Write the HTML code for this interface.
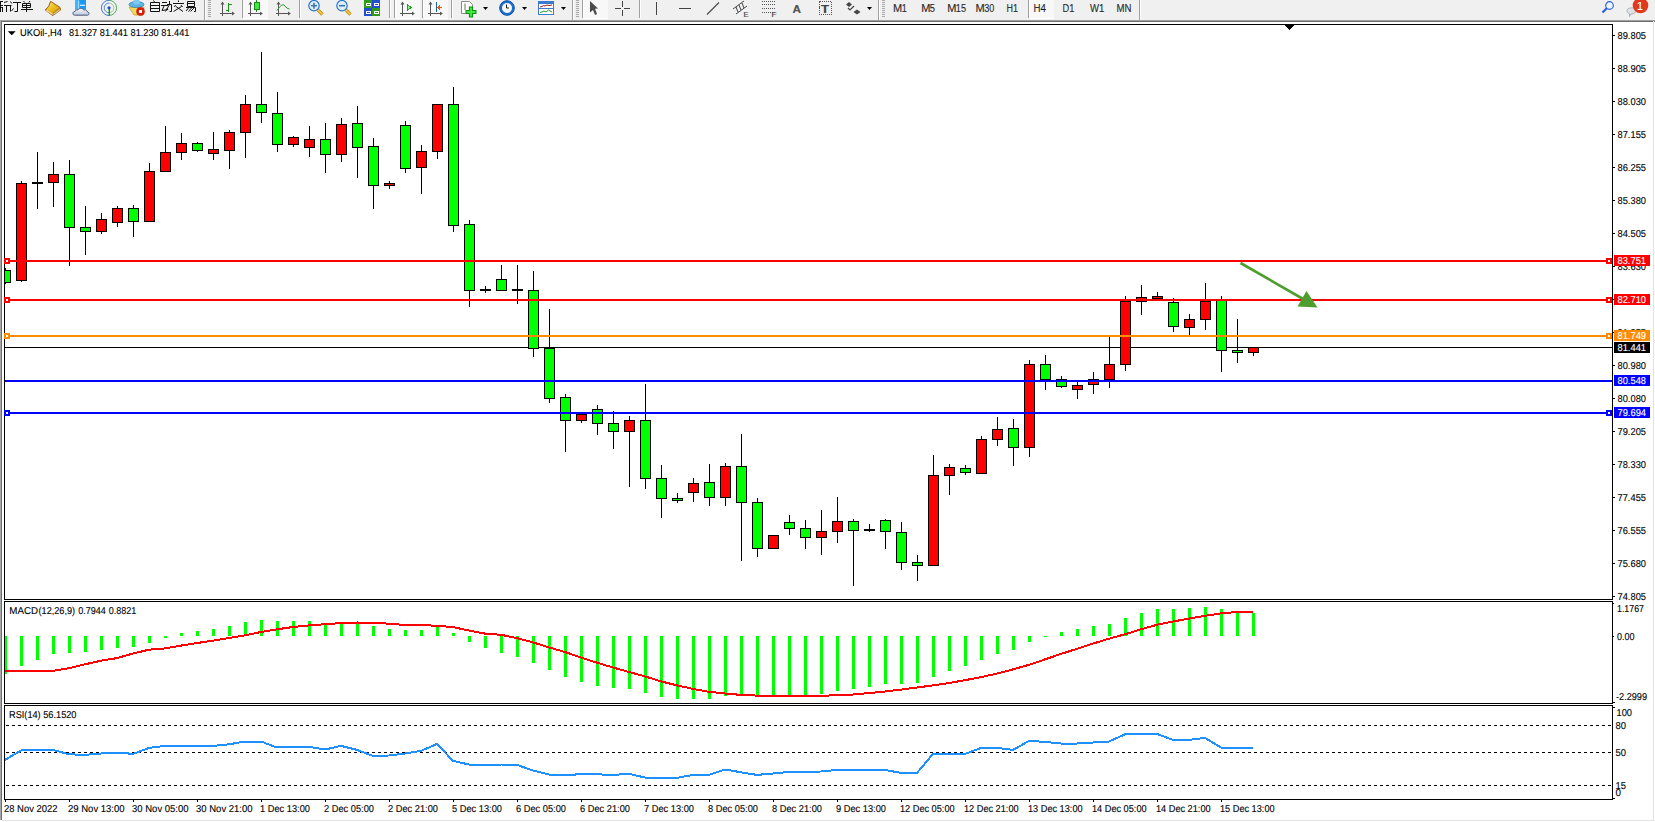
<!DOCTYPE html>
<html><head><meta charset="utf-8"><style>
html,body{margin:0;padding:0;background:#f0f0f0;}
body{width:1655px;height:822px;overflow:hidden;position:relative;}
svg{position:absolute;left:0;top:0;display:block;}
text{font-family:'Liberation Sans',sans-serif;stroke:currentColor;stroke-width:0.12px;}
</style></head><body>
<svg width="1655" height="822" viewBox="0 0 1655 822" shape-rendering="crispEdges">
<defs>
<clipPath id="mainclip"><rect x="5" y="25" width="1607" height="574"/></clipPath>
<clipPath id="macdclip"><rect x="5" y="602" width="1607" height="101"/></clipPath>
<clipPath id="rsiclip"><rect x="5" y="706" width="1607" height="93"/></clipPath>
</defs>
<g text-rendering="geometricPrecision">
<rect x="0" y="0" width="1655" height="822" fill="#f0f0f0"/>
<rect x="0" y="20" width="1655" height="802" fill="#ffffff"/>
<rect x="0" y="20" width="1655" height="1" fill="#a0a0a0"/>
<rect x="0" y="20" width="1" height="800" fill="#a8a8a8"/>
<rect x="1" y="21" width="1654" height="1" fill="#6e6e6e"/>
<rect x="1" y="21" width="1" height="799" fill="#6e6e6e"/>
<rect x="1653" y="21" width="1" height="800" fill="#e3e3e3"/>
<rect x="2" y="820" width="1652" height="1" fill="#e3e3e3"/>
<rect x="4" y="24" width="1609" height="1" fill="#000"/>
<rect x="4" y="599" width="1609" height="1" fill="#000"/>
<rect x="4" y="24" width="1" height="576" fill="#000"/>
<rect x="1612" y="24" width="1" height="576" fill="#000"/>
<rect x="4" y="601" width="1609" height="1" fill="#000"/>
<rect x="4" y="703" width="1609" height="1" fill="#000"/>
<rect x="4" y="601" width="1" height="103" fill="#000"/>
<rect x="1612" y="601" width="1" height="103" fill="#000"/>
<rect x="4" y="705" width="1609" height="1" fill="#000"/>
<rect x="4" y="799" width="1609" height="1" fill="#000"/>
<rect x="4" y="705" width="1" height="95" fill="#000"/>
<rect x="1612" y="705" width="1" height="95" fill="#000"/>
<rect x="5" y="347" width="1607" height="1" fill="#000"/>
<g clip-path="url(#mainclip)"><rect x="5" y="268" width="1" height="16" fill="#000"/><rect x="0" y="270" width="11" height="13" fill="#000"/><rect x="1" y="271" width="9" height="11" fill="#00ff00"/><rect x="21" y="181" width="1" height="101" fill="#000"/><rect x="16" y="183" width="11" height="98" fill="#000"/><rect x="17" y="184" width="9" height="96" fill="#ff0000"/><rect x="37" y="152" width="1" height="57" fill="#000"/><rect x="32" y="182" width="11" height="2" fill="#000"/><rect x="53" y="162" width="1" height="45" fill="#000"/><rect x="48" y="174" width="11" height="9" fill="#000"/><rect x="49" y="175" width="9" height="7" fill="#ff0000"/><rect x="69" y="160" width="1" height="106" fill="#000"/><rect x="64" y="174" width="11" height="54" fill="#000"/><rect x="65" y="175" width="9" height="52" fill="#00ff00"/><rect x="85" y="206" width="1" height="49" fill="#000"/><rect x="80" y="227" width="11" height="5" fill="#000"/><rect x="81" y="228" width="9" height="3" fill="#00ff00"/><rect x="101" y="213" width="1" height="21" fill="#000"/><rect x="96" y="219" width="11" height="13" fill="#000"/><rect x="97" y="220" width="9" height="11" fill="#ff0000"/><rect x="117" y="206" width="1" height="21" fill="#000"/><rect x="112" y="208" width="11" height="15" fill="#000"/><rect x="113" y="209" width="9" height="13" fill="#ff0000"/><rect x="133" y="205" width="1" height="32" fill="#000"/><rect x="128" y="208" width="11" height="14" fill="#000"/><rect x="129" y="209" width="9" height="12" fill="#00ff00"/><rect x="149" y="163" width="1" height="58" fill="#000"/><rect x="144" y="171" width="11" height="51" fill="#000"/><rect x="145" y="172" width="9" height="49" fill="#ff0000"/><rect x="165" y="126" width="1" height="45" fill="#000"/><rect x="160" y="152" width="11" height="20" fill="#000"/><rect x="161" y="153" width="9" height="18" fill="#ff0000"/><rect x="181" y="133" width="1" height="27" fill="#000"/><rect x="176" y="143" width="11" height="10" fill="#000"/><rect x="177" y="144" width="9" height="8" fill="#ff0000"/><rect x="197" y="142" width="1" height="10" fill="#000"/><rect x="192" y="143" width="11" height="8" fill="#000"/><rect x="193" y="144" width="9" height="6" fill="#00ff00"/><rect x="213" y="132" width="1" height="28" fill="#000"/><rect x="208" y="149" width="11" height="5" fill="#000"/><rect x="209" y="150" width="9" height="3" fill="#ff0000"/><rect x="229" y="130" width="1" height="39" fill="#000"/><rect x="224" y="132" width="11" height="19" fill="#000"/><rect x="225" y="133" width="9" height="17" fill="#ff0000"/><rect x="245" y="95" width="1" height="63" fill="#000"/><rect x="240" y="104" width="11" height="29" fill="#000"/><rect x="241" y="105" width="9" height="27" fill="#ff0000"/><rect x="261" y="52" width="1" height="71" fill="#000"/><rect x="256" y="104" width="11" height="9" fill="#000"/><rect x="257" y="105" width="9" height="7" fill="#00ff00"/><rect x="277" y="92" width="1" height="60" fill="#000"/><rect x="272" y="113" width="11" height="32" fill="#000"/><rect x="273" y="114" width="9" height="30" fill="#00ff00"/><rect x="293" y="136" width="1" height="11" fill="#000"/><rect x="288" y="137" width="11" height="8" fill="#000"/><rect x="289" y="138" width="9" height="6" fill="#ff0000"/><rect x="309" y="126" width="1" height="31" fill="#000"/><rect x="304" y="139" width="11" height="9" fill="#000"/><rect x="305" y="140" width="9" height="7" fill="#ff0000"/><rect x="325" y="123" width="1" height="50" fill="#000"/><rect x="320" y="139" width="11" height="16" fill="#000"/><rect x="321" y="140" width="9" height="14" fill="#00ff00"/><rect x="341" y="118" width="1" height="44" fill="#000"/><rect x="336" y="124" width="11" height="31" fill="#000"/><rect x="337" y="125" width="9" height="29" fill="#ff0000"/><rect x="357" y="106" width="1" height="72" fill="#000"/><rect x="352" y="123" width="11" height="25" fill="#000"/><rect x="353" y="124" width="9" height="23" fill="#00ff00"/><rect x="373" y="138" width="1" height="71" fill="#000"/><rect x="368" y="146" width="11" height="40" fill="#000"/><rect x="369" y="147" width="9" height="38" fill="#00ff00"/><rect x="389" y="181" width="1" height="8" fill="#000"/><rect x="384" y="183" width="11" height="3" fill="#000"/><rect x="385" y="184" width="9" height="1" fill="#ff0000"/><rect x="405" y="121" width="1" height="52" fill="#000"/><rect x="400" y="125" width="11" height="44" fill="#000"/><rect x="401" y="126" width="9" height="42" fill="#00ff00"/><rect x="421" y="145" width="1" height="49" fill="#000"/><rect x="416" y="151" width="11" height="17" fill="#000"/><rect x="417" y="152" width="9" height="15" fill="#ff0000"/><rect x="437" y="104" width="1" height="55" fill="#000"/><rect x="432" y="104" width="11" height="48" fill="#000"/><rect x="433" y="105" width="9" height="46" fill="#ff0000"/><rect x="453" y="87" width="1" height="145" fill="#000"/><rect x="448" y="104" width="11" height="122" fill="#000"/><rect x="449" y="105" width="9" height="120" fill="#00ff00"/><rect x="469" y="220" width="1" height="87" fill="#000"/><rect x="464" y="224" width="11" height="67" fill="#000"/><rect x="465" y="225" width="9" height="65" fill="#00ff00"/><rect x="485" y="286" width="1" height="7" fill="#000"/><rect x="480" y="289" width="11" height="2" fill="#000"/><rect x="501" y="265" width="1" height="25" fill="#000"/><rect x="496" y="279" width="11" height="12" fill="#000"/><rect x="497" y="280" width="9" height="10" fill="#00ff00"/><rect x="517" y="265" width="1" height="39" fill="#000"/><rect x="512" y="289" width="11" height="2" fill="#000"/><rect x="533" y="271" width="1" height="86" fill="#000"/><rect x="528" y="290" width="11" height="59" fill="#000"/><rect x="529" y="291" width="9" height="57" fill="#00ff00"/><rect x="549" y="309" width="1" height="94" fill="#000"/><rect x="544" y="348" width="11" height="51" fill="#000"/><rect x="545" y="349" width="9" height="49" fill="#00ff00"/><rect x="565" y="394" width="1" height="58" fill="#000"/><rect x="560" y="397" width="11" height="24" fill="#000"/><rect x="561" y="398" width="9" height="22" fill="#00ff00"/><rect x="581" y="414" width="1" height="9" fill="#000"/><rect x="576" y="414" width="11" height="7" fill="#000"/><rect x="577" y="415" width="9" height="5" fill="#ff0000"/><rect x="597" y="405" width="1" height="30" fill="#000"/><rect x="592" y="409" width="11" height="15" fill="#000"/><rect x="593" y="410" width="9" height="13" fill="#00ff00"/><rect x="613" y="411" width="1" height="38" fill="#000"/><rect x="608" y="423" width="11" height="9" fill="#000"/><rect x="609" y="424" width="9" height="7" fill="#00ff00"/><rect x="629" y="416" width="1" height="71" fill="#000"/><rect x="624" y="420" width="11" height="12" fill="#000"/><rect x="625" y="421" width="9" height="10" fill="#ff0000"/><rect x="645" y="384" width="1" height="105" fill="#000"/><rect x="640" y="420" width="11" height="59" fill="#000"/><rect x="641" y="421" width="9" height="57" fill="#00ff00"/><rect x="661" y="465" width="1" height="53" fill="#000"/><rect x="656" y="478" width="11" height="21" fill="#000"/><rect x="657" y="479" width="9" height="19" fill="#00ff00"/><rect x="677" y="493" width="1" height="10" fill="#000"/><rect x="672" y="498" width="11" height="3" fill="#000"/><rect x="673" y="499" width="9" height="1" fill="#00ff00"/><rect x="693" y="478" width="1" height="24" fill="#000"/><rect x="688" y="483" width="11" height="10" fill="#000"/><rect x="689" y="484" width="9" height="8" fill="#ff0000"/><rect x="709" y="464" width="1" height="42" fill="#000"/><rect x="704" y="482" width="11" height="16" fill="#000"/><rect x="705" y="483" width="9" height="14" fill="#00ff00"/><rect x="725" y="463" width="1" height="43" fill="#000"/><rect x="720" y="466" width="11" height="32" fill="#000"/><rect x="721" y="467" width="9" height="30" fill="#ff0000"/><rect x="741" y="434" width="1" height="127" fill="#000"/><rect x="736" y="466" width="11" height="37" fill="#000"/><rect x="737" y="467" width="9" height="35" fill="#00ff00"/><rect x="757" y="498" width="1" height="59" fill="#000"/><rect x="752" y="502" width="11" height="47" fill="#000"/><rect x="753" y="503" width="9" height="45" fill="#00ff00"/><rect x="773" y="535" width="1" height="13" fill="#000"/><rect x="768" y="535" width="11" height="14" fill="#000"/><rect x="769" y="536" width="9" height="12" fill="#ff0000"/><rect x="789" y="515" width="1" height="20" fill="#000"/><rect x="784" y="522" width="11" height="7" fill="#000"/><rect x="785" y="523" width="9" height="5" fill="#00ff00"/><rect x="805" y="520" width="1" height="29" fill="#000"/><rect x="800" y="528" width="11" height="10" fill="#000"/><rect x="801" y="529" width="9" height="8" fill="#00ff00"/><rect x="821" y="510" width="1" height="45" fill="#000"/><rect x="816" y="531" width="11" height="7" fill="#000"/><rect x="817" y="532" width="9" height="5" fill="#ff0000"/><rect x="837" y="497" width="1" height="46" fill="#000"/><rect x="832" y="521" width="11" height="11" fill="#000"/><rect x="833" y="522" width="9" height="9" fill="#ff0000"/><rect x="853" y="519" width="1" height="67" fill="#000"/><rect x="848" y="521" width="11" height="10" fill="#000"/><rect x="849" y="522" width="9" height="8" fill="#00ff00"/><rect x="869" y="524" width="1" height="8" fill="#000"/><rect x="864" y="529" width="11" height="2" fill="#000"/><rect x="885" y="519" width="1" height="30" fill="#000"/><rect x="880" y="520" width="11" height="12" fill="#000"/><rect x="881" y="521" width="9" height="10" fill="#00ff00"/><rect x="901" y="522" width="1" height="48" fill="#000"/><rect x="896" y="532" width="11" height="31" fill="#000"/><rect x="897" y="533" width="9" height="29" fill="#00ff00"/><rect x="917" y="555" width="1" height="26" fill="#000"/><rect x="912" y="562" width="11" height="4" fill="#000"/><rect x="913" y="563" width="9" height="2" fill="#00ff00"/><rect x="933" y="455" width="1" height="110" fill="#000"/><rect x="928" y="475" width="11" height="91" fill="#000"/><rect x="929" y="476" width="9" height="89" fill="#ff0000"/><rect x="949" y="464" width="1" height="31" fill="#000"/><rect x="944" y="467" width="11" height="9" fill="#000"/><rect x="945" y="468" width="9" height="7" fill="#ff0000"/><rect x="965" y="465" width="1" height="10" fill="#000"/><rect x="960" y="468" width="11" height="5" fill="#000"/><rect x="961" y="469" width="9" height="3" fill="#00ff00"/><rect x="981" y="436" width="1" height="37" fill="#000"/><rect x="976" y="439" width="11" height="35" fill="#000"/><rect x="977" y="440" width="9" height="33" fill="#ff0000"/><rect x="997" y="417" width="1" height="29" fill="#000"/><rect x="992" y="429" width="11" height="11" fill="#000"/><rect x="993" y="430" width="9" height="9" fill="#ff0000"/><rect x="1013" y="419" width="1" height="47" fill="#000"/><rect x="1008" y="428" width="11" height="20" fill="#000"/><rect x="1009" y="429" width="9" height="18" fill="#00ff00"/><rect x="1029" y="360" width="1" height="97" fill="#000"/><rect x="1024" y="364" width="11" height="84" fill="#000"/><rect x="1025" y="365" width="9" height="82" fill="#ff0000"/><rect x="1045" y="355" width="1" height="35" fill="#000"/><rect x="1040" y="364" width="11" height="16" fill="#000"/><rect x="1041" y="365" width="9" height="14" fill="#00ff00"/><rect x="1061" y="376" width="1" height="12" fill="#000"/><rect x="1056" y="379" width="11" height="8" fill="#000"/><rect x="1057" y="380" width="9" height="6" fill="#00ff00"/><rect x="1077" y="382" width="1" height="17" fill="#000"/><rect x="1072" y="385" width="11" height="5" fill="#000"/><rect x="1073" y="386" width="9" height="3" fill="#ff0000"/><rect x="1093" y="372" width="1" height="22" fill="#000"/><rect x="1088" y="379" width="11" height="6" fill="#000"/><rect x="1089" y="380" width="9" height="4" fill="#ff0000"/><rect x="1109" y="337" width="1" height="51" fill="#000"/><rect x="1104" y="364" width="11" height="16" fill="#000"/><rect x="1105" y="365" width="9" height="14" fill="#ff0000"/><rect x="1125" y="296" width="1" height="75" fill="#000"/><rect x="1120" y="301" width="11" height="64" fill="#000"/><rect x="1121" y="302" width="9" height="62" fill="#ff0000"/><rect x="1141" y="285" width="1" height="30" fill="#000"/><rect x="1136" y="297" width="11" height="5" fill="#000"/><rect x="1137" y="298" width="9" height="3" fill="#ff0000"/><rect x="1157" y="292" width="1" height="6" fill="#000"/><rect x="1152" y="296" width="11" height="3" fill="#000"/><rect x="1153" y="297" width="9" height="1" fill="#ff0000"/><rect x="1173" y="298" width="1" height="34" fill="#000"/><rect x="1168" y="302" width="11" height="25" fill="#000"/><rect x="1169" y="303" width="9" height="23" fill="#00ff00"/><rect x="1189" y="314" width="1" height="21" fill="#000"/><rect x="1184" y="319" width="11" height="9" fill="#000"/><rect x="1185" y="320" width="9" height="7" fill="#ff0000"/><rect x="1205" y="283" width="1" height="47" fill="#000"/><rect x="1200" y="301" width="11" height="19" fill="#000"/><rect x="1201" y="302" width="9" height="17" fill="#ff0000"/><rect x="1221" y="296" width="1" height="76" fill="#000"/><rect x="1216" y="300" width="11" height="51" fill="#000"/><rect x="1217" y="301" width="9" height="49" fill="#00ff00"/><rect x="1237" y="319" width="1" height="44" fill="#000"/><rect x="1232" y="350" width="11" height="3" fill="#000"/><rect x="1233" y="351" width="9" height="1" fill="#00ff00"/><rect x="1253" y="347" width="1" height="9" fill="#000"/><rect x="1248" y="347" width="11" height="6" fill="#000"/><rect x="1249" y="348" width="9" height="4" fill="#ff0000"/></g>
<rect x="5" y="260" width="1607" height="2" fill="#ff0000"/>
<rect x="5" y="299" width="1607" height="2" fill="#ff0000"/>
<rect x="5" y="335" width="1607" height="2" fill="#ff8c00"/>
<rect x="5" y="380" width="1607" height="2" fill="#0000ff"/>
<rect x="5" y="412" width="1607" height="2" fill="#0000ff"/>
<rect x="4" y="258" width="6" height="6" fill="#ff0000"/>
<rect x="6" y="260" width="2" height="2" fill="#fff"/>
<rect x="1606" y="258" width="6" height="6" fill="#ff0000"/>
<rect x="1608" y="260" width="2" height="2" fill="#fff"/>
<rect x="4" y="297" width="6" height="6" fill="#ff0000"/>
<rect x="6" y="299" width="2" height="2" fill="#fff"/>
<rect x="1606" y="297" width="6" height="6" fill="#ff0000"/>
<rect x="1608" y="299" width="2" height="2" fill="#fff"/>
<rect x="4" y="333" width="6" height="6" fill="#ff8c00"/>
<rect x="6" y="335" width="2" height="2" fill="#fff"/>
<rect x="1606" y="333" width="6" height="6" fill="#ff8c00"/>
<rect x="1608" y="335" width="2" height="2" fill="#fff"/>
<rect x="4" y="410" width="6" height="6" fill="#0000ff"/>
<rect x="6" y="412" width="2" height="2" fill="#fff"/>
<rect x="1606" y="410" width="6" height="6" fill="#0000ff"/>
<rect x="1608" y="412" width="2" height="2" fill="#fff"/>
<g shape-rendering="geometricPrecision"><line x1="1240.5" y1="263" x2="1304" y2="299.5" stroke="#4f9d2d" stroke-width="2.6"/>
<polygon points="1306.5,291 1297.5,306.5 1317.5,307.5" fill="#4f9d2d"/></g>
<polygon points="1284.5,24.5 1294.8,24.5 1289.6,30.3" fill="#000"/>
<rect x="1613" y="35" width="2" height="1" fill="#000"/>
<text x="1617.5" y="39" font-size="10" fill="#000" style="color:#000" textLength="28.5" lengthAdjust="spacingAndGlyphs">89.805</text>
<rect x="1613" y="68" width="2" height="1" fill="#000"/>
<text x="1617.5" y="72" font-size="10" fill="#000" style="color:#000" textLength="28.5" lengthAdjust="spacingAndGlyphs">88.905</text>
<rect x="1613" y="101" width="2" height="1" fill="#000"/>
<text x="1617.5" y="105" font-size="10" fill="#000" style="color:#000" textLength="28.5" lengthAdjust="spacingAndGlyphs">88.030</text>
<rect x="1613" y="134" width="2" height="1" fill="#000"/>
<text x="1617.5" y="138" font-size="10" fill="#000" style="color:#000" textLength="28.5" lengthAdjust="spacingAndGlyphs">87.155</text>
<rect x="1613" y="167" width="2" height="1" fill="#000"/>
<text x="1617.5" y="171" font-size="10" fill="#000" style="color:#000" textLength="28.5" lengthAdjust="spacingAndGlyphs">86.255</text>
<rect x="1613" y="200" width="2" height="1" fill="#000"/>
<text x="1617.5" y="204" font-size="10" fill="#000" style="color:#000" textLength="28.5" lengthAdjust="spacingAndGlyphs">85.380</text>
<rect x="1613" y="233" width="2" height="1" fill="#000"/>
<text x="1617.5" y="237" font-size="10" fill="#000" style="color:#000" textLength="28.5" lengthAdjust="spacingAndGlyphs">84.505</text>
<rect x="1613" y="266" width="2" height="1" fill="#000"/>
<text x="1617.5" y="270" font-size="10" fill="#000" style="color:#000" textLength="28.5" lengthAdjust="spacingAndGlyphs">83.630</text>
<rect x="1613" y="299" width="2" height="1" fill="#000"/>
<text x="1617.5" y="303" font-size="10" fill="#000" style="color:#000" textLength="28.5" lengthAdjust="spacingAndGlyphs">82.730</text>
<rect x="1613" y="332" width="2" height="1" fill="#000"/>
<text x="1617.5" y="336" font-size="10" fill="#000" style="color:#000" textLength="28.5" lengthAdjust="spacingAndGlyphs">81.855</text>
<rect x="1613" y="365" width="2" height="1" fill="#000"/>
<text x="1617.5" y="369" font-size="10" fill="#000" style="color:#000" textLength="28.5" lengthAdjust="spacingAndGlyphs">80.980</text>
<rect x="1613" y="398" width="2" height="1" fill="#000"/>
<text x="1617.5" y="402" font-size="10" fill="#000" style="color:#000" textLength="28.5" lengthAdjust="spacingAndGlyphs">80.080</text>
<rect x="1613" y="431" width="2" height="1" fill="#000"/>
<text x="1617.5" y="435" font-size="10" fill="#000" style="color:#000" textLength="28.5" lengthAdjust="spacingAndGlyphs">79.205</text>
<rect x="1613" y="464" width="2" height="1" fill="#000"/>
<text x="1617.5" y="468" font-size="10" fill="#000" style="color:#000" textLength="28.5" lengthAdjust="spacingAndGlyphs">78.330</text>
<rect x="1613" y="497" width="2" height="1" fill="#000"/>
<text x="1617.5" y="501" font-size="10" fill="#000" style="color:#000" textLength="28.5" lengthAdjust="spacingAndGlyphs">77.455</text>
<rect x="1613" y="530" width="2" height="1" fill="#000"/>
<text x="1617.5" y="534" font-size="10" fill="#000" style="color:#000" textLength="28.5" lengthAdjust="spacingAndGlyphs">76.555</text>
<rect x="1613" y="563" width="2" height="1" fill="#000"/>
<text x="1617.5" y="567" font-size="10" fill="#000" style="color:#000" textLength="28.5" lengthAdjust="spacingAndGlyphs">75.680</text>
<rect x="1613" y="596" width="2" height="1" fill="#000"/>
<text x="1617.5" y="600" font-size="10" fill="#000" style="color:#000" textLength="28.5" lengthAdjust="spacingAndGlyphs">74.805</text>
<rect x="1614" y="255" width="36" height="11" fill="#ff0000"/>
<text x="1617.5" y="264" font-size="10" fill="#fff" style="color:#fff" textLength="28.5" lengthAdjust="spacingAndGlyphs">83.751</text>
<rect x="1614" y="294" width="36" height="11" fill="#ff0000"/>
<text x="1617.5" y="303" font-size="10" fill="#fff" style="color:#fff" textLength="28.5" lengthAdjust="spacingAndGlyphs">82.710</text>
<rect x="1614" y="330" width="36" height="11" fill="#ff8c00"/>
<text x="1617.5" y="339" font-size="10" fill="#fff" style="color:#fff" textLength="28.5" lengthAdjust="spacingAndGlyphs">81.749</text>
<rect x="1614" y="342" width="36" height="11" fill="#000000"/>
<text x="1617.5" y="351" font-size="10" fill="#fff" style="color:#fff" textLength="28.5" lengthAdjust="spacingAndGlyphs">81.441</text>
<rect x="1614" y="375" width="36" height="11" fill="#0000ff"/>
<text x="1617.5" y="384" font-size="10" fill="#fff" style="color:#fff" textLength="28.5" lengthAdjust="spacingAndGlyphs">80.548</text>
<rect x="1614" y="407" width="36" height="11" fill="#0000ff"/>
<text x="1617.5" y="416" font-size="10" fill="#fff" style="color:#fff" textLength="28.5" lengthAdjust="spacingAndGlyphs">79.694</text>
<polygon points="7.8,31.3 15.7,31.3 11.75,35.3" fill="#000" shape-rendering="geometricPrecision"/>
<text x="20" y="35.5" font-size="10" fill="#000" style="color:#000" textLength="42" lengthAdjust="spacingAndGlyphs">UKOil-,H4</text>
<text x="69" y="35.5" font-size="10" fill="#000" style="color:#000" textLength="120.5" lengthAdjust="spacingAndGlyphs">81.327 81.441 81.230 81.441</text>
<text x="9.3" y="614" font-size="10" fill="#000" style="color:#000" textLength="28.7" lengthAdjust="spacingAndGlyphs">MACD</text>
<text x="38.5" y="614" font-size="10" fill="#000" style="color:#000" textLength="36.6" lengthAdjust="spacingAndGlyphs">(12,26,9)</text>
<text x="78.2" y="614" font-size="10" fill="#000" style="color:#000" textLength="27.6" lengthAdjust="spacingAndGlyphs">0.7944</text>
<text x="108.7" y="614" font-size="10" fill="#000" style="color:#000" textLength="27.6" lengthAdjust="spacingAndGlyphs">0.8821</text>
<g clip-path="url(#macdclip)"><rect x="4" y="636" width="3" height="38" fill="#00ff00"/><rect x="20" y="636" width="3" height="30" fill="#00ff00"/><rect x="36" y="636" width="3" height="24" fill="#00ff00"/><rect x="52" y="636" width="3" height="18" fill="#00ff00"/><rect x="68" y="636" width="3" height="17" fill="#00ff00"/><rect x="84" y="636" width="3" height="16" fill="#00ff00"/><rect x="100" y="636" width="3" height="14" fill="#00ff00"/><rect x="116" y="636" width="3" height="12" fill="#00ff00"/><rect x="132" y="636" width="3" height="11" fill="#00ff00"/><rect x="148" y="636" width="3" height="7" fill="#00ff00"/><rect x="164" y="636" width="3" height="2" fill="#00ff00"/><rect x="180" y="633" width="3" height="3" fill="#00ff00"/><rect x="196" y="631" width="3" height="5" fill="#00ff00"/><rect x="212" y="629" width="3" height="7" fill="#00ff00"/><rect x="228" y="626" width="3" height="10" fill="#00ff00"/><rect x="244" y="622" width="3" height="14" fill="#00ff00"/><rect x="260" y="620" width="3" height="16" fill="#00ff00"/><rect x="276" y="621" width="3" height="15" fill="#00ff00"/><rect x="292" y="621" width="3" height="15" fill="#00ff00"/><rect x="308" y="621" width="3" height="15" fill="#00ff00"/><rect x="324" y="623" width="3" height="13" fill="#00ff00"/><rect x="340" y="622" width="3" height="14" fill="#00ff00"/><rect x="356" y="623" width="3" height="13" fill="#00ff00"/><rect x="372" y="626" width="3" height="10" fill="#00ff00"/><rect x="388" y="629" width="3" height="7" fill="#00ff00"/><rect x="404" y="630" width="3" height="6" fill="#00ff00"/><rect x="420" y="630" width="3" height="6" fill="#00ff00"/><rect x="436" y="626" width="3" height="10" fill="#00ff00"/><rect x="452" y="633" width="3" height="3" fill="#00ff00"/><rect x="468" y="636" width="3" height="6" fill="#00ff00"/><rect x="484" y="636" width="3" height="12" fill="#00ff00"/><rect x="500" y="636" width="3" height="17" fill="#00ff00"/><rect x="516" y="636" width="3" height="21" fill="#00ff00"/><rect x="532" y="636" width="3" height="27" fill="#00ff00"/><rect x="548" y="636" width="3" height="34" fill="#00ff00"/><rect x="564" y="636" width="3" height="41" fill="#00ff00"/><rect x="580" y="636" width="3" height="46" fill="#00ff00"/><rect x="596" y="636" width="3" height="50" fill="#00ff00"/><rect x="612" y="636" width="3" height="52" fill="#00ff00"/><rect x="628" y="636" width="3" height="53" fill="#00ff00"/><rect x="644" y="636" width="3" height="57" fill="#00ff00"/><rect x="660" y="636" width="3" height="61" fill="#00ff00"/><rect x="676" y="636" width="3" height="63" fill="#00ff00"/><rect x="692" y="636" width="3" height="63" fill="#00ff00"/><rect x="708" y="636" width="3" height="63" fill="#00ff00"/><rect x="724" y="636" width="3" height="60" fill="#00ff00"/><rect x="740" y="636" width="3" height="60" fill="#00ff00"/><rect x="756" y="636" width="3" height="61" fill="#00ff00"/><rect x="772" y="636" width="3" height="61" fill="#00ff00"/><rect x="788" y="636" width="3" height="60" fill="#00ff00"/><rect x="804" y="636" width="3" height="60" fill="#00ff00"/><rect x="820" y="636" width="3" height="58" fill="#00ff00"/><rect x="836" y="636" width="3" height="55" fill="#00ff00"/><rect x="852" y="636" width="3" height="53" fill="#00ff00"/><rect x="868" y="636" width="3" height="51" fill="#00ff00"/><rect x="884" y="636" width="3" height="48" fill="#00ff00"/><rect x="900" y="636" width="3" height="48" fill="#00ff00"/><rect x="916" y="636" width="3" height="47" fill="#00ff00"/><rect x="932" y="636" width="3" height="41" fill="#00ff00"/><rect x="948" y="636" width="3" height="35" fill="#00ff00"/><rect x="964" y="636" width="3" height="30" fill="#00ff00"/><rect x="980" y="636" width="3" height="24" fill="#00ff00"/><rect x="996" y="636" width="3" height="18" fill="#00ff00"/><rect x="1012" y="636" width="3" height="14" fill="#00ff00"/><rect x="1028" y="636" width="3" height="6" fill="#00ff00"/><rect x="1044" y="636" width="3" height="1" fill="#00ff00"/><rect x="1060" y="632" width="3" height="4" fill="#00ff00"/><rect x="1076" y="629" width="3" height="7" fill="#00ff00"/><rect x="1092" y="626" width="3" height="10" fill="#00ff00"/><rect x="1108" y="624" width="3" height="12" fill="#00ff00"/><rect x="1124" y="618" width="3" height="18" fill="#00ff00"/><rect x="1140" y="613" width="3" height="23" fill="#00ff00"/><rect x="1156" y="609" width="3" height="27" fill="#00ff00"/><rect x="1172" y="609" width="3" height="27" fill="#00ff00"/><rect x="1188" y="608" width="3" height="28" fill="#00ff00"/><rect x="1204" y="607" width="3" height="29" fill="#00ff00"/><rect x="1220" y="609" width="3" height="27" fill="#00ff00"/><rect x="1236" y="613" width="3" height="23" fill="#00ff00"/><rect x="1252" y="613" width="3" height="23" fill="#00ff00"/></g>
<polyline points="5,671.2 21,671.1 37,671.0 53,670.8 69,668.2 85,664.3 101,660.7 117,658.1 133,653.5 149,649.7 165,648.4 181,645.6 197,643.0 213,640.7 229,638.0 245,635.3 261,632.0 277,629.3 293,627.0 309,625.4 325,624.2 341,623.1 357,622.5 373,622.7 389,623.7 405,625.0 421,625.2 437,625.7 453,627.1 469,630.5 485,633.6 501,634.8 517,638.1 533,642.4 549,647.4 565,652.0 581,657.5 597,662.7 613,667.5 629,672.0 645,676.4 661,681.4 677,685.4 693,688.9 709,691.8 725,693.5 741,694.9 757,695.6 773,696.0 789,696.2 805,696.0 821,695.8 837,695.2 853,694.5 869,693.1 885,691.5 901,689.6 917,687.5 933,685.4 949,683.0 965,680.2 981,677.1 997,673.6 1013,669.4 1029,664.8 1045,659.4 1061,653.9 1077,648.8 1093,643.6 1109,638.7 1125,634.3 1141,629.3 1157,624.8 1173,621.5 1189,618.6 1205,615.8 1221,613.4 1237,612.0 1253,611.8" fill="none" stroke="#ff0000" stroke-width="2" clip-path="url(#macdclip)"/>
<rect x="1613" y="603" width="1" height="1" fill="#000"/>
<text x="1617" y="612" font-size="10" fill="#000" style="color:#000" textLength="27" lengthAdjust="spacingAndGlyphs">1.1767</text>
<rect x="1613" y="636" width="1" height="1" fill="#000"/>
<text x="1617" y="640" font-size="10" fill="#000" style="color:#000" textLength="17.5" lengthAdjust="spacingAndGlyphs">0.00</text>
<rect x="1613" y="702" width="2" height="1" fill="#000"/>
<rect x="1613" y="707" width="2" height="1" fill="#000"/>
<text x="1616" y="700" font-size="10" fill="#000" style="color:#000" textLength="31" lengthAdjust="spacingAndGlyphs">-2.2999</text>
<text x="9" y="718" font-size="10" fill="#000" style="color:#000" textLength="67.5" lengthAdjust="spacingAndGlyphs">RSI(14) 56.1520</text>
<line x1="6" y1="725.5" x2="1612" y2="725.5" stroke="#000" stroke-width="1" stroke-dasharray="3,3"/>
<line x1="6" y1="752.5" x2="1612" y2="752.5" stroke="#000" stroke-width="1" stroke-dasharray="3,3"/>
<line x1="6" y1="785.5" x2="1612" y2="785.5" stroke="#000" stroke-width="1" stroke-dasharray="3,3"/>
<polyline points="5,759.9 21,750.5 37,749.9 53,749.9 69,754.3 85,754.9 101,753.5 117,752.5 133,753.9 149,747.9 165,745.9 181,745.9 197,745.9 213,745.9 229,744.3 245,741.5 261,741.5 277,747.5 293,747.3 309,746.9 325,749.5 341,745.9 357,749.9 373,755.9 389,755.5 405,753.5 421,750.9 437,743.9 453,760.9 469,764.5 485,764.5 501,764.5 517,764.9 533,770.5 549,774.5 565,774.9 581,774.3 597,774.3 613,774.9 629,773.9 645,777.5 661,777.9 677,777.9 693,774.9 709,774.9 725,769.5 741,772.3 757,774.9 773,773.5 789,771.9 805,771.9 821,771.5 837,769.9 853,769.9 869,769.9 885,769.9 901,772.9 917,772.9 933,753.9 949,753.9 965,753.9 981,747.9 997,747.9 1013,749.9 1029,740.9 1045,741.9 1061,743.5 1077,743.5 1093,742.5 1109,741.5 1125,734.3 1141,733.9 1157,733.9 1173,739.9 1189,739.9 1205,737.9 1221,747.5 1237,747.9 1253,747.9" fill="none" stroke="#1e90ff" stroke-width="2" clip-path="url(#rsiclip)"/>
<rect x="1613" y="798" width="2" height="1" fill="#000"/>
<text x="1616.5" y="716" font-size="10" fill="#000" style="color:#000" textLength="15.5" lengthAdjust="spacingAndGlyphs">100</text>
<text x="1615.5" y="729" font-size="10" fill="#000" style="color:#000" textLength="10.5" lengthAdjust="spacingAndGlyphs">80</text>
<text x="1615.5" y="756" font-size="10" fill="#000" style="color:#000" textLength="10.5" lengthAdjust="spacingAndGlyphs">50</text>
<text x="1615.5" y="789" font-size="10" fill="#000" style="color:#000" textLength="10.5" lengthAdjust="spacingAndGlyphs">15</text>
<text x="1615.5" y="796" font-size="10" fill="#000" style="color:#000" textLength="5.5" lengthAdjust="spacingAndGlyphs">0</text>
<rect x="5" y="800" width="1" height="2" fill="#000"/>
<text x="4" y="812" font-size="10" fill="#000" style="color:#000" textLength="53.5" lengthAdjust="spacingAndGlyphs">28 Nov 2022</text>
<rect x="69" y="800" width="1" height="2" fill="#000"/>
<text x="68" y="812" font-size="10" fill="#000" style="color:#000" textLength="56.6" lengthAdjust="spacingAndGlyphs">29 Nov 13:00</text>
<rect x="133" y="800" width="1" height="2" fill="#000"/>
<text x="132" y="812" font-size="10" fill="#000" style="color:#000" textLength="56.6" lengthAdjust="spacingAndGlyphs">30 Nov 05:00</text>
<rect x="197" y="800" width="1" height="2" fill="#000"/>
<text x="196" y="812" font-size="10" fill="#000" style="color:#000" textLength="56.6" lengthAdjust="spacingAndGlyphs">30 Nov 21:00</text>
<rect x="261" y="800" width="1" height="2" fill="#000"/>
<text x="260" y="812" font-size="10" fill="#000" style="color:#000" textLength="50.0" lengthAdjust="spacingAndGlyphs">1 Dec 13:00</text>
<rect x="325" y="800" width="1" height="2" fill="#000"/>
<text x="324" y="812" font-size="10" fill="#000" style="color:#000" textLength="50.0" lengthAdjust="spacingAndGlyphs">2 Dec 05:00</text>
<rect x="389" y="800" width="1" height="2" fill="#000"/>
<text x="388" y="812" font-size="10" fill="#000" style="color:#000" textLength="50.0" lengthAdjust="spacingAndGlyphs">2 Dec 21:00</text>
<rect x="453" y="800" width="1" height="2" fill="#000"/>
<text x="452" y="812" font-size="10" fill="#000" style="color:#000" textLength="50.0" lengthAdjust="spacingAndGlyphs">5 Dec 13:00</text>
<rect x="517" y="800" width="1" height="2" fill="#000"/>
<text x="516" y="812" font-size="10" fill="#000" style="color:#000" textLength="50.0" lengthAdjust="spacingAndGlyphs">6 Dec 05:00</text>
<rect x="581" y="800" width="1" height="2" fill="#000"/>
<text x="580" y="812" font-size="10" fill="#000" style="color:#000" textLength="50.0" lengthAdjust="spacingAndGlyphs">6 Dec 21:00</text>
<rect x="645" y="800" width="1" height="2" fill="#000"/>
<text x="644" y="812" font-size="10" fill="#000" style="color:#000" textLength="50.0" lengthAdjust="spacingAndGlyphs">7 Dec 13:00</text>
<rect x="709" y="800" width="1" height="2" fill="#000"/>
<text x="708" y="812" font-size="10" fill="#000" style="color:#000" textLength="50.0" lengthAdjust="spacingAndGlyphs">8 Dec 05:00</text>
<rect x="773" y="800" width="1" height="2" fill="#000"/>
<text x="772" y="812" font-size="10" fill="#000" style="color:#000" textLength="50.0" lengthAdjust="spacingAndGlyphs">8 Dec 21:00</text>
<rect x="837" y="800" width="1" height="2" fill="#000"/>
<text x="836" y="812" font-size="10" fill="#000" style="color:#000" textLength="50.0" lengthAdjust="spacingAndGlyphs">9 Dec 13:00</text>
<rect x="901" y="800" width="1" height="2" fill="#000"/>
<text x="900" y="812" font-size="10" fill="#000" style="color:#000" textLength="54.6" lengthAdjust="spacingAndGlyphs">12 Dec 05:00</text>
<rect x="965" y="800" width="1" height="2" fill="#000"/>
<text x="964" y="812" font-size="10" fill="#000" style="color:#000" textLength="54.6" lengthAdjust="spacingAndGlyphs">12 Dec 21:00</text>
<rect x="1029" y="800" width="1" height="2" fill="#000"/>
<text x="1028" y="812" font-size="10" fill="#000" style="color:#000" textLength="54.6" lengthAdjust="spacingAndGlyphs">13 Dec 13:00</text>
<rect x="1093" y="800" width="1" height="2" fill="#000"/>
<text x="1092" y="812" font-size="10" fill="#000" style="color:#000" textLength="54.6" lengthAdjust="spacingAndGlyphs">14 Dec 05:00</text>
<rect x="1157" y="800" width="1" height="2" fill="#000"/>
<text x="1156" y="812" font-size="10" fill="#000" style="color:#000" textLength="54.6" lengthAdjust="spacingAndGlyphs">14 Dec 21:00</text>
<rect x="1221" y="800" width="1" height="2" fill="#000"/>
<text x="1220" y="812" font-size="10" fill="#000" style="color:#000" textLength="54.6" lengthAdjust="spacingAndGlyphs">15 Dec 13:00</text>
</g>
<g shape-rendering="auto" stroke="#111" stroke-width="1" fill="none" stroke-linecap="butt"><path d="M0,1.5H3 M0,5.5H3 M0,7.5H3 M0.5,1V12 M2.5,8V12"/><path d="M4,2.5L7.5,1.5 M4,5.5H11.5 M6.5,5.5V12 M10.5,5.5V11.5"/><path d="M10.5,1.5L11.8,3.5 M11.5,11L13.5,8.5 M13,2.5H21 M17.5,2.5V11.5H14.5"/><path d="M23.5,1L24.7,2.5 M30,1L28.8,2.5 M22.5,3.5H30.5V7.5H22.5Z M22.5,5.5H30.5 M21,9.5H33 M26.5,3.5V12"/><path d="M153.5,0.5L154.5,2 M150.5,2.5V11.5 M159.5,2.5V11.5 M150.5,2.5H159.5 M150.5,5.5H159.5 M150.5,8.5H159.5 M150.5,11.5H159.5"/><path d="M162,2.5H167 M161,5.5H168 M164,6L162,10.5L168,9.5 M167,8L168,10 M167,4.5H171.5V11.5H169.5 M169.5,1V4.5L165.5,11.5"/><path d="M178.5,0.5V2 M173,3.5H184 M175.5,5L174.5,7 M181,5L182.5,7 M176,6.5L183,11.5 M181.5,6.5L173.5,11.5"/><path d="M187.5,1.5H194.5V6.5H187.5Z M187.5,3.5H194.5 M186,7.5H195.5V11.5H194 M188.5,8L186,11 M191.5,8L188.5,11.5 M194,8L190.5,11.5"/></g>
<g shape-rendering="auto">
<defs><linearGradient id="bookg" x1="0" y1="0" x2="1" y2="1"><stop offset="0" stop-color="#fff0a0"/><stop offset="0.45" stop-color="#f0c020"/><stop offset="1" stop-color="#d8a010"/></linearGradient></defs>
<path d="M50.5,1.3 L59.8,7.2 L60.8,9.8 L52.7,15.6 L45.2,10 L48.8,6 Z" fill="#c08a20" stroke="#9a6010" stroke-width="0.9"/>
<path d="M51,2.3 L59,7.6 L52.3,13 L46.6,9.4 L49.6,5.8 Z" fill="url(#bookg)"/>
<path d="M46.3,10.2 L52.6,14.3" stroke="#f8e0a0" stroke-width="1.3"/>
<path d="M53.5,14.2 L60,9.6" stroke="#e8d8a0" stroke-width="1"/>
<defs><linearGradient id="cloudg" x1="0" y1="0" x2="0" y2="1"><stop offset="0" stop-color="#ffffff"/><stop offset="1" stop-color="#b8c4d8"/></linearGradient></defs>
<rect x="75" y="0" width="11" height="9.5" fill="#1a9af5"/>
<rect x="75" y="0" width="3.5" height="9.5" fill="#3ab8ff"/>
<path d="M78.7,0.5 V9" stroke="#e8f6ff" stroke-width="0.8"/>
<path d="M80,5.3 H85" stroke="#e8f6ff" stroke-width="1.2"/>
<path d="M74.5,15.2 C72.3,15.2 72.3,11.3 75.2,11.3 C75.4,10 76.8,9.5 77.8,10 C78.6,8 82.8,7.6 83.8,10.2 C85,9.4 86.8,9.8 87,11.6 C89.6,11.8 89.6,15.2 87.4,15.2 Z" fill="url(#cloudg)" stroke="#4a5a80" stroke-width="1"/>
<path d="M109,0.3 A7.6,7.6 0 0 0 109,15.5" stroke="#4a78d0" stroke-width="1" fill="none"/>
<path d="M109,3.1 A4.8,4.8 0 0 0 109,12.7" stroke="#5a88d8" stroke-width="1" fill="none"/>
<path d="M109,0.3 A7.6,7.6 0 0 1 109,15.5" stroke="#5aa860" stroke-width="1" fill="none"/>
<path d="M109,3.1 A4.8,4.8 0 0 1 109,12.7" stroke="#9ccc9c" stroke-width="1" fill="none"/>
<path d="M109.3,8 V15.5" stroke="#1a9a1a" stroke-width="1.5"/>
<circle cx="109" cy="7.8" r="1.6" fill="#2050c8"/>
<path d="M129,7 L134,15 L143,15 L144,7 Z" fill="#f2d860" stroke="#c9a227" stroke-width="0.8"/>
<ellipse cx="136.5" cy="4.5" rx="7.5" ry="3" fill="#5fb4e6" stroke="#2b7fb8" stroke-width="0.8"/>
<ellipse cx="136.5" cy="2" rx="3.5" ry="2.5" fill="#7fc8f0"/>
<circle cx="140.5" cy="11.5" r="4" fill="#e0200c" stroke="#b01500" stroke-width="0.6"/>
<rect x="139" y="10" width="3" height="3" fill="#fff"/>
</g>
<rect x="204" y="0" width="1" height="20" fill="#a0a0a0"/>
<rect x="205" y="0" width="1" height="20" fill="#ffffff"/>
<rect x="208" y="0" width="3" height="1" fill="#a8a8a8"/>
<rect x="208" y="2" width="3" height="1" fill="#a8a8a8"/>
<rect x="208" y="4" width="3" height="1" fill="#a8a8a8"/>
<rect x="208" y="6" width="3" height="1" fill="#a8a8a8"/>
<rect x="208" y="8" width="3" height="1" fill="#a8a8a8"/>
<rect x="208" y="10" width="3" height="1" fill="#a8a8a8"/>
<rect x="208" y="12" width="3" height="1" fill="#a8a8a8"/>
<rect x="208" y="14" width="3" height="1" fill="#a8a8a8"/>
<rect x="208" y="16" width="3" height="1" fill="#a8a8a8"/>
<path d="M222.5,3 V16 M220,13.5 H233" stroke="#555" stroke-width="1" fill="none"/>
<polygon points="220.5,4.5 222.5,1.5 224.5,4.5" fill="#555" shape-rendering="auto"/>
<polygon points="232,11.5 234.8,13.5 232,15.5" fill="#555" shape-rendering="auto"/>
<path d="M228.5,3 V11.5 M228.5,4.5 H231.5 M225.5,10.5 H228.5" stroke="#1a9a1a" stroke-width="1.2" fill="none"/>
<rect x="242" y="0" width="1" height="18" fill="#a0a0a0"/>
<rect x="243" y="0" width="1" height="18" fill="#ffffff"/>
<rect x="243" y="0" width="25" height="18" fill="#f8f8f8"/>
<rect x="243" y="18" width="25" height="1" fill="#ffffff"/>
<path d="M250.5,3 V16 M248,13.5 H261" stroke="#555" stroke-width="1" fill="none"/>
<polygon points="248.5,4.5 250.5,1.5 252.5,4.5" fill="#555" shape-rendering="auto"/>
<polygon points="260,11.5 262.8,13.5 260,15.5" fill="#555" shape-rendering="auto"/>
<rect x="256" y="0" width="1" height="12" fill="#1a8a1a"/>
<rect x="254" y="2.5" width="5" height="7" fill="#3ee83e" stroke="#1a8a1a" stroke-width="1"/>
<path d="M278.5,3 V16 M276,13.5 H289" stroke="#555" stroke-width="1" fill="none"/>
<polygon points="276.5,4.5 278.5,1.5 280.5,4.5" fill="#555" shape-rendering="auto"/>
<polygon points="288,11.5 290.8,13.5 288,15.5" fill="#555" shape-rendering="auto"/>
<path d="M277,10.5 Q282.5,2 285,6 Q287,9 289.5,9" stroke="#2a9a2a" stroke-width="1" fill="none" shape-rendering="auto"/>
<rect x="299" y="0" width="1" height="18" fill="#a0a0a0"/>
<rect x="300" y="0" width="1" height="18" fill="#ffffff"/>
<g shape-rendering="auto">
<path d="M318,10 L322.5,14.5" stroke="#c08a10" stroke-width="3.2"/>
<path d="M318,10 L322.5,14.5" stroke="#f0d050" stroke-width="1.6"/>
<circle cx="314" cy="5.7" r="5.2" fill="#dcefff" stroke="#2f72c4" stroke-width="1.2"/>
<path d="M311,5.7 H317" stroke="#3a78a8" stroke-width="1.6"/>
<path d="M314,2.7 V8.7" stroke="#3a78a8" stroke-width="1.6"/>
</g>
<g shape-rendering="auto">
<path d="M346,10 L350.5,14.5" stroke="#c08a10" stroke-width="3.2"/>
<path d="M346,10 L350.5,14.5" stroke="#f0d050" stroke-width="1.6"/>
<circle cx="342" cy="5.7" r="5.2" fill="#dcefff" stroke="#2f72c4" stroke-width="1.2"/>
<path d="M339,5.7 H345" stroke="#3a78a8" stroke-width="1.6"/>
</g>
<rect x="364" y="0" width="8" height="8" fill="#2f9a1a"/>
<rect x="365.5" y="3" width="5" height="3" fill="#ffffff"/>
<rect x="366.5" y="4" width="3" height="1" fill="#2f9a1a"/>
<rect x="372" y="0" width="8" height="8" fill="#2050d0"/>
<rect x="373.5" y="3" width="5" height="3" fill="#ffffff"/>
<rect x="374.5" y="4" width="3" height="1" fill="#2050d0"/>
<rect x="364" y="8" width="8" height="8" fill="#2050d0"/>
<rect x="365.5" y="11" width="5" height="3" fill="#ffffff"/>
<rect x="366.5" y="12" width="3" height="1" fill="#2050d0"/>
<rect x="372" y="8" width="8" height="8" fill="#2f9a1a"/>
<rect x="373.5" y="11" width="5" height="3" fill="#ffffff"/>
<rect x="374.5" y="12" width="3" height="1" fill="#2f9a1a"/>
<rect x="389" y="0" width="1" height="18" fill="#a0a0a0"/>
<rect x="390" y="0" width="1" height="18" fill="#ffffff"/>
<rect x="394" y="0" width="1" height="18" fill="#a0a0a0"/>
<rect x="395" y="0" width="1" height="18" fill="#ffffff"/>
<rect x="396" y="0" width="24" height="18" fill="#f8f8f8"/>
<rect x="396" y="18" width="24" height="1" fill="#ffffff"/>
<path d="M402.5,3 V16 M400,13.5 H413" stroke="#555" stroke-width="1" fill="none"/>
<polygon points="400.5,4.5 402.5,1.5 404.5,4.5" fill="#555" shape-rendering="auto"/>
<polygon points="412,11.5 414.8,13.5 412,15.5" fill="#555" shape-rendering="auto"/>
<path d="M407.5,4.5 L411,7.5 L407.5,10.5 Z" fill="#9ee89e" stroke="#1aa01a" stroke-width="1"/>
<rect x="422" y="0" width="1" height="18" fill="#a0a0a0"/>
<rect x="423" y="0" width="1" height="18" fill="#ffffff"/>
<rect x="424" y="0" width="24" height="18" fill="#f8f8f8"/>
<rect x="424" y="18" width="24" height="1" fill="#ffffff"/>
<path d="M430.5,3 V16 M428,13.5 H441" stroke="#555" stroke-width="1" fill="none"/>
<polygon points="428.5,4.5 430.5,1.5 432.5,4.5" fill="#555" shape-rendering="auto"/>
<polygon points="440,11.5 442.8,13.5 440,15.5" fill="#555" shape-rendering="auto"/>
<rect x="436" y="2" width="1" height="10" fill="#1a5faa"/>
<path d="M442,7.5 H438.5 M440,5.5 L438,7.5 L440,9.5" stroke="#e0600a" stroke-width="1.2" fill="none"/>
<rect x="451" y="0" width="1" height="18" fill="#a0a0a0"/>
<rect x="452" y="0" width="1" height="18" fill="#ffffff"/>
<g shape-rendering="auto">
<path d="M461.5,1.5 H469.5 L472.5,4.5 V13.5 H461.5 Z" fill="#fdfdfd" stroke="#8a8a8a" stroke-width="1"/>
<path d="M465,3.5 V10" stroke="#5a4a2a" stroke-width="0.8"/>
<path d="M471,6.5 V17.5 M465.5,12 H476.5" stroke="#108a10" stroke-width="4.2"/>
<path d="M471,7.5 V16.5 M466.5,12 H475.5" stroke="#3ee83e" stroke-width="2.2"/>
</g>
<polygon points="483,7 488,7 485.5,10" fill="#000" shape-rendering="auto"/>
<g shape-rendering="auto">
<circle cx="507" cy="8" r="7.3" fill="#1a6fd0" stroke="#0d4fa8" stroke-width="1"/>
<circle cx="507" cy="8" r="5" fill="#f8f8f8"/>
<path d="M506.5,4.5 V8 H509" stroke="#222" stroke-width="1" fill="none"/>
</g>
<polygon points="522,7 527,7 524.5,10" fill="#000" shape-rendering="auto"/>
<rect x="538" y="1" width="16" height="14" fill="#3a7ad0"/>
<rect x="539" y="4" width="14" height="10" fill="#ffffff"/>
<rect x="539" y="8" width="14" height="1" fill="#3a7ad0"/>
<path d="M540,7 L542,6.5 L543.5,5.5 L545,6 L547,5 L549,5.5 L552,5" stroke="#a02010" stroke-width="1" fill="none" shape-rendering="auto"/>
<path d="M540,12.5 L542,12 L544,11 L546,12 L548.5,10 L550,11 L552,12" stroke="#20a020" stroke-width="1" fill="none" shape-rendering="auto"/>
<polygon points="561,7 566,7 563.5,10" fill="#000" shape-rendering="auto"/>
<rect x="572" y="0" width="1" height="20" fill="#a0a0a0"/>
<rect x="573" y="0" width="1" height="20" fill="#ffffff"/>
<rect x="576" y="0" width="3" height="1" fill="#a8a8a8"/>
<rect x="576" y="2" width="3" height="1" fill="#a8a8a8"/>
<rect x="576" y="4" width="3" height="1" fill="#a8a8a8"/>
<rect x="576" y="6" width="3" height="1" fill="#a8a8a8"/>
<rect x="576" y="8" width="3" height="1" fill="#a8a8a8"/>
<rect x="576" y="10" width="3" height="1" fill="#a8a8a8"/>
<rect x="576" y="12" width="3" height="1" fill="#a8a8a8"/>
<rect x="576" y="14" width="3" height="1" fill="#a8a8a8"/>
<rect x="576" y="16" width="3" height="1" fill="#a8a8a8"/>
<rect x="582" y="0" width="1" height="18" fill="#a0a0a0"/>
<rect x="583" y="0" width="1" height="18" fill="#ffffff"/>
<rect x="584" y="0" width="24" height="18" fill="#f8f8f8"/>
<rect x="584" y="18" width="24" height="1" fill="#ffffff"/>
<polygon points="590,1 598,8.5 595,8.8 597,14 595,15 593,10 590,12.5" fill="#4a4a4a" shape-rendering="auto"/>
<rect x="615" y="8" width="6" height="1" fill="#444"/>
<rect x="624" y="8" width="6" height="1" fill="#444"/>
<rect x="622" y="1" width="1" height="6" fill="#444"/>
<rect x="622" y="10" width="1" height="6" fill="#444"/>
<rect x="639" y="0" width="1" height="18" fill="#a0a0a0"/>
<rect x="640" y="0" width="1" height="18" fill="#ffffff"/>
<rect x="656" y="2" width="1" height="13" fill="#444"/>
<rect x="679" y="8" width="12" height="1" fill="#444"/>
<path d="M707,14.5 L719,2.5" stroke="#444" stroke-width="1.1" shape-rendering="auto"/>
<g shape-rendering="auto" stroke="#444" stroke-width="1" fill="none">
<path d="M733,9 L744,1 M736,14 L747,6 M736,7 L738,12 M739,5 L741,10 M742,3 L744,8"/>
</g>
<text x="743.5" y="17" font-size="7" fill="#444" textLength="5" lengthAdjust="spacingAndGlyphs">E</text>
<path d="M762,1.5 H775" stroke="#555" stroke-width="1" stroke-dasharray="1,1"/>
<path d="M762,4.5 H775" stroke="#555" stroke-width="1" stroke-dasharray="1,1"/>
<path d="M762,8.5 H775" stroke="#555" stroke-width="1" stroke-dasharray="1,1"/>
<path d="M762,12.5 H775" stroke="#555" stroke-width="1" stroke-dasharray="1,1"/>
<text x="771.5" y="17" font-size="7" fill="#444" textLength="5" lengthAdjust="spacingAndGlyphs">F</text>
<text x="792.5" y="13" font-size="11" fill="#555" font-weight="bold" textLength="8.5" lengthAdjust="spacingAndGlyphs">A</text>
<rect x="819.5" y="1.5" width="11.5" height="13" fill="none" stroke="#555" stroke-width="1" stroke-dasharray="1,1"/>
<text x="821" y="12.5" font-size="10" fill="#444" font-weight="bold" textLength="8" lengthAdjust="spacingAndGlyphs">T</text>
<g shape-rendering="auto">
<polygon points="849,2 852,4.5 849,7 846,4.5" fill="#444"/>
<polygon points="857,9.5 860.5,12 857,14.5 853.5,12" fill="#444"/>
<path d="M848,8 L850,10 L854,6" stroke="#444" stroke-width="1.2" fill="none"/>
</g>
<polygon points="867,7 872,7 869.5,10" fill="#000" shape-rendering="auto"/>
<rect x="878" y="0" width="1" height="20" fill="#a0a0a0"/>
<rect x="879" y="0" width="1" height="20" fill="#ffffff"/>
<rect x="882" y="0" width="3" height="1" fill="#a8a8a8"/>
<rect x="882" y="2" width="3" height="1" fill="#a8a8a8"/>
<rect x="882" y="4" width="3" height="1" fill="#a8a8a8"/>
<rect x="882" y="6" width="3" height="1" fill="#a8a8a8"/>
<rect x="882" y="8" width="3" height="1" fill="#a8a8a8"/>
<rect x="882" y="10" width="3" height="1" fill="#a8a8a8"/>
<rect x="882" y="12" width="3" height="1" fill="#a8a8a8"/>
<rect x="882" y="14" width="3" height="1" fill="#a8a8a8"/>
<rect x="882" y="16" width="3" height="1" fill="#a8a8a8"/>
<text x="893" y="12" font-size="10" fill="#333" textLength="9.2" lengthAdjust="spacingAndGlyphs">M</text>
<text x="901.8" y="12" font-size="10" fill="#333" textLength="5" lengthAdjust="spacingAndGlyphs">1</text>
<text x="921.2" y="12" font-size="10" fill="#333" textLength="9.2" lengthAdjust="spacingAndGlyphs">M</text>
<text x="929.8" y="12" font-size="10" fill="#333" textLength="5.2" lengthAdjust="spacingAndGlyphs">5</text>
<text x="947.2" y="12" font-size="10" fill="#333" textLength="9.2" lengthAdjust="spacingAndGlyphs">M</text>
<text x="955.8" y="12" font-size="10" fill="#333" textLength="10.2" lengthAdjust="spacingAndGlyphs">15</text>
<text x="975.6" y="12" font-size="10" fill="#333" textLength="9.2" lengthAdjust="spacingAndGlyphs">M</text>
<text x="984.2" y="12" font-size="10" fill="#333" textLength="10" lengthAdjust="spacingAndGlyphs">30</text>
<text x="1006.5" y="12" font-size="10" fill="#333" textLength="11.5" lengthAdjust="spacingAndGlyphs">H1</text>
<rect x="1028" y="0" width="1" height="18" fill="#a0a0a0"/>
<rect x="1029" y="0" width="1" height="18" fill="#ffffff"/>
<rect x="1030" y="0" width="24" height="18" fill="#f8f8f8"/>
<rect x="1030" y="18" width="24" height="1" fill="#ffffff"/>
<text x="1033.5" y="12" font-size="10" fill="#333" textLength="12.5" lengthAdjust="spacingAndGlyphs">H4</text>
<text x="1062.5" y="12" font-size="10" fill="#333" textLength="11.8" lengthAdjust="spacingAndGlyphs">D1</text>
<text x="1090" y="12" font-size="10" fill="#333" textLength="14.3" lengthAdjust="spacingAndGlyphs">W1</text>
<text x="1116.5" y="12" font-size="10" fill="#333" textLength="15" lengthAdjust="spacingAndGlyphs">MN</text>
<rect x="1139" y="0" width="1" height="20" fill="#a0a0a0"/>
<rect x="1140" y="0" width="1" height="20" fill="#ffffff"/>
<g shape-rendering="auto">
<circle cx="1609.5" cy="5.5" r="3.8" fill="#eef3ff" stroke="#2a62d8" stroke-width="1.2"/>
<path d="M1606.8,8.2 L1602.5,12.5" stroke="#2a62d8" stroke-width="2.2"/>
<path d="M1627,10.5 C1627,7 1636,7 1636,10.5 C1636,13 1633,14 1631,14 L1629.5,16.5 L1629.5,13.8 C1628,13.3 1627,12.2 1627,10.5 Z" fill="#dfe2ea" stroke="#a0a0a0" stroke-width="0.8"/>
<circle cx="1640.5" cy="5.5" r="7.8" fill="#e2381c"/>
<text x="1637" y="10" font-size="10.5" fill="#fff" font-weight="bold">1</text>
</g>
</svg>
</body></html>
